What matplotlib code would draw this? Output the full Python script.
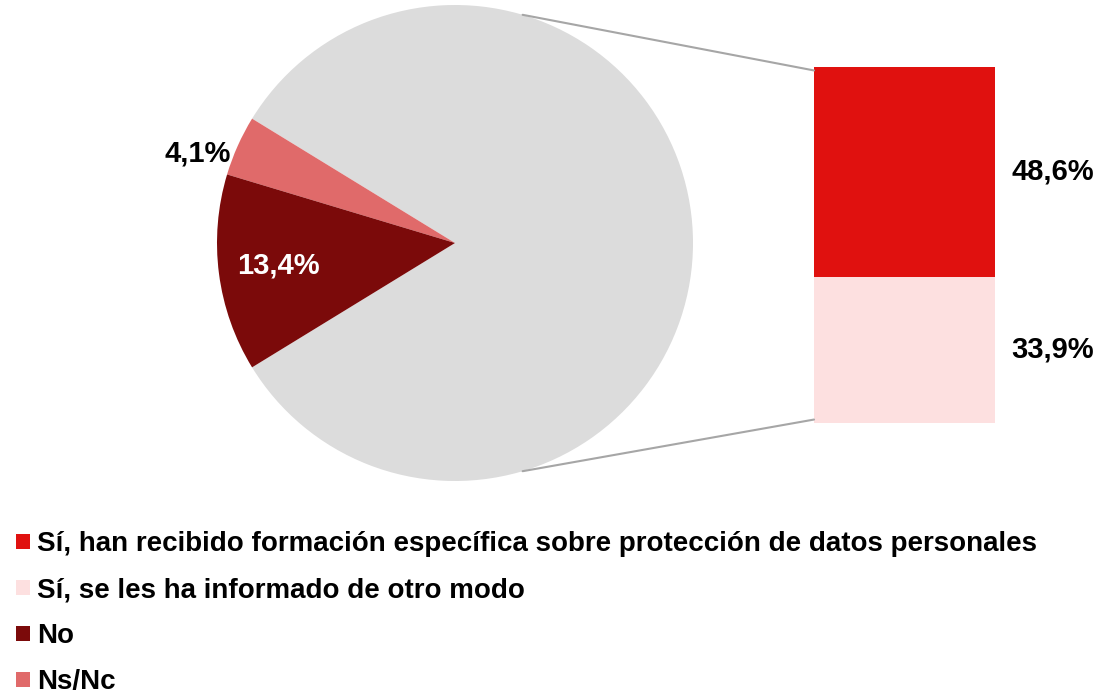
import matplotlib.pyplot as plt
import numpy as np
from matplotlib.patches import ConnectionPatch, Patch

plt.rcParams['font.family'] = ['Liberation Sans', 'DejaVu Sans']
plt.rcParams['font.weight'] = 'bold'

# data
labels = ['Sí, han recibido formación específica sobre protección de datos personales',
          'Sí, se les ha informado de otro modo',
          'No',
          'Ns/Nc']
values = [48.6, 33.9, 13.4, 4.1]
colors = ['#E0110F', '#FDE0E0', '#7B0A0A', '#E06A6A']
grey = '#DCDCDC'

W, H = 1097, 700
fig = plt.figure(figsize=(W / 100, H / 100), dpi=100)

# pie: combined "Sí" slice + No + Ns/Nc
si_total = values[0] + values[1]
pie_vals = [si_total, values[3], values[2]]
pie_cols = [grey, colors[3], colors[2]]
start = -si_total * 3.6 / 2

ax_pie = fig.add_axes([217 / W, (H - 481) / H, 476 / W, 476 / H])
wedges, _ = ax_pie.pie(pie_vals, colors=pie_cols, startangle=start, radius=1,
                       wedgeprops=dict(linewidth=0))
ax_pie.set_xlim(-1, 1)
ax_pie.set_ylim(-1, 1)
ax_pie.axis('off')

def fmt(v):
    return f'{v:.1f}%'.replace('.', ',')

# pie labels
ang_ns = np.deg2rad(start + (si_total + values[3] / 2) * 3.6 + 5)
ax_pie.text(1.145 * np.cos(ang_ns), 1.145 * np.sin(ang_ns), fmt(values[3]),
            ha='center', va='center', fontsize=21, color='black')
ang_no = np.deg2rad(start + (si_total + values[3] + values[2] / 2) * 3.6)
ax_pie.text(0.75 * np.cos(ang_no), 0.75 * np.sin(ang_no), fmt(values[2]),
            ha='center', va='center', fontsize=21, color='white')

# stacked bar for the "Sí" breakdown
ax_bar = fig.add_axes([814 / W, (H - 423) / H, 181 / W, 356 / H])
ax_bar.bar(0, values[1], width=1, color=colors[1])
ax_bar.bar(0, values[0], width=1, bottom=values[1], color=colors[0])
ax_bar.set_xlim(-0.5, 0.5)
ax_bar.set_ylim(0, si_total)
ax_bar.axis('off')
ax_bar.text(0.59, values[1] + values[0] / 2, fmt(values[0]), ha='left', va='center',
            fontsize=21)
ax_bar.text(0.59, values[1] / 2, fmt(values[1]), ha='left', va='center', fontsize=21)

# connector lines
for a, yb in [(73.5, si_total - 0.8), (-73.5, 0.8)]:
    r = np.deg2rad(a)
    con = ConnectionPatch(xyA=(np.cos(r), np.sin(r)), coordsA=ax_pie.transData,
                          xyB=(-0.5, yb), coordsB=ax_bar.transData,
                          color='#A6A6A6', linewidth=1.5)
    fig.add_artist(con)

# legend
handles = [Patch(facecolor=c, edgecolor='none') for c in colors]
fig.legend(handles, labels, loc='upper left', bbox_to_anchor=(16 / W, 0.241),
           frameon=False, fontsize=20, handlelength=0.5, handleheight=0.5,
           handletextpad=0.25, labelspacing=0.72, borderaxespad=0, borderpad=0)

fig.savefig('out.png', dpi=100)
